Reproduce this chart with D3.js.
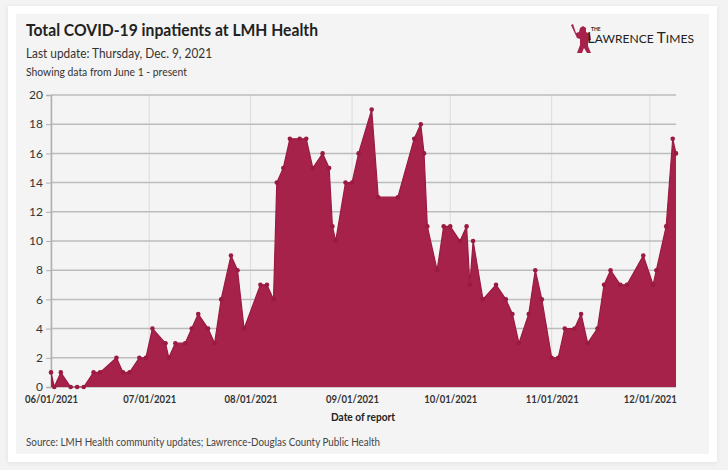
<!DOCTYPE html>
<html>
<head>
<meta charset="utf-8">
<script src="https://cdn.jsdelivr.net/npm/d3@7"></script>
<style>
  html, body { margin: 0; padding: 0; background: #f3f3f3; }
  svg { display: block; }
  text { font-family: "Lato", "Noto Sans", sans-serif; }
</style>
</head>
<body>
<div id="chart"></div>
<script>
// Report dates and patient counts
const reportDates = [
  "2021-06-01", "2021-06-02", "2021-06-04", "2021-06-07", "2021-06-09", "2021-06-11",
  "2021-06-14", "2021-06-16", "2021-06-21", "2021-06-23", "2021-06-25", "2021-06-28",
  "2021-06-30", "2021-07-02", "2021-07-06", "2021-07-07", "2021-07-09", "2021-07-12",
  "2021-07-14", "2021-07-16", "2021-07-19", "2021-07-21", "2021-07-23", "2021-07-26",
  "2021-07-28", "2021-07-30", "2021-08-04", "2021-08-06", "2021-08-08", "2021-08-09",
  "2021-08-11", "2021-08-13", "2021-08-16", "2021-08-18", "2021-08-20", "2021-08-23",
  "2021-08-25", "2021-08-26", "2021-08-27", "2021-08-30", "2021-09-01", "2021-09-03",
  "2021-09-07", "2021-09-09", "2021-09-15", "2021-09-20", "2021-09-22", "2021-09-23",
  "2021-09-24", "2021-09-27", "2021-09-29", "2021-10-01", "2021-10-04", "2021-10-06",
  "2021-10-07", "2021-10-08", "2021-10-11", "2021-10-15", "2021-10-18", "2021-10-20",
  "2021-10-22", "2021-10-25", "2021-10-27", "2021-10-29", "2021-11-01", "2021-11-03",
  "2021-11-05", "2021-11-08", "2021-11-10", "2021-11-12", "2021-11-15", "2021-11-17",
  "2021-11-19", "2021-11-22", "2021-11-24", "2021-11-29", "2021-12-02", "2021-12-03",
  "2021-12-06", "2021-12-08", "2021-12-09"
];
const inpatients = [
  1, 0, 1, 0, 0, 0,
  1, 1, 2, 1, 1, 2,
  2, 4, 3, 2, 3, 3,
  4, 5, 4, 3, 6, 9,
  8, 4, 7, 7, 6, 14,
  15, 17, 17, 17, 15, 16,
  15, 11, 10, 14, 14, 16,
  19, 13, 13, 17, 18, 16,
  11, 8, 11, 11, 10, 11,
  7, 10, 6, 7, 6, 5,
  3, 5, 8, 6, 2, 2,
  4, 4, 5, 3, 4, 7,
  8, 7, 7, 9, 7, 8,
  11, 17, 16
];
const xTickDates = ["2021-06-01", "2021-07-01", "2021-08-01", "2021-09-01", "2021-10-01", "2021-11-01", "2021-12-01"];
const yTicks = [0, 2, 4, 6, 8, 10, 12, 14, 16, 18, 20];

const W = 728, H = 470;
const margin = { left: 51, right: 52, top: 95, bottom: 83 };
const fillColor = "#a6224b";
const dotColor = "#9a1a41";

const parse = d3.timeParse("%Y-%m-%d");
const data = reportDates.map((d, i) => ({ date: parse(d), value: inpatients[i] }));

const svg = d3.select("#chart").append("svg")
  .attr("width", W)
  .attr("height", H);

// page card and inner panel
const defs = svg.append("defs");
const shadow = defs.append("filter").attr("id", "shadow").attr("x", "-5%").attr("y", "-5%").attr("width", "110%").attr("height", "110%");
shadow.append("feDropShadow").attr("dx", 0).attr("dy", 1).attr("stdDeviation", 2).attr("flood-color", "#000").attr("flood-opacity", 0.08);

svg.append("rect").attr("x", 8).attr("y", 6).attr("width", 709).attr("height", 456)
  .attr("fill", "#fff").attr("filter", "url(#shadow)");
svg.append("rect").attr("x", 16).attr("y", 14).attr("width", 693).attr("height", 440)
  .attr("fill", "#f4f4f4");

// the reference font is narrower than Lato, so fit each text to its measured width
function fit(sel, len) {
  return sel.attr("textLength", len).attr("lengthAdjust", "spacingAndGlyphs");
}

// titles
fit(svg.append("text").attr("x", 26).attr("y", 36)
  .attr("font-size", 17).attr("font-weight", 700).attr("fill", "#222")
  .text("Total COVID-19 inpatients at LMH Health"), 292);
fit(svg.append("text").attr("x", 26).attr("y", 57.5)
  .attr("font-size", 13.5).attr("fill", "#333")
  .text("Last update: Thursday, Dec. 9, 2021"), 186);
fit(svg.append("text").attr("x", 26).attr("y", 75.5)
  .attr("font-size", 11).attr("fill", "#333")
  .text("Showing data from June 1 - present"), 161);

// scales
const x = d3.scaleTime()
  .domain(d3.extent(data, d => d.date))
  .range([margin.left, W - margin.right]);
const y = d3.scaleLinear()
  .domain([0, 20])
  .range([H - margin.bottom, margin.top]);

// vertical gridlines at month starts
const monthTicks = xTickDates.map(parse);
svg.append("g").selectAll("line")
  .data(monthTicks)
  .join("line")
  .attr("x1", d => x(d)).attr("x2", d => x(d))
  .attr("y1", y(20)).attr("y2", y(0))
  .attr("stroke", "#dcdcdc").attr("stroke-width", 1);

// horizontal gridlines
svg.append("g").selectAll("line")
  .data(yTicks)
  .join("line")
  .attr("x1", margin.left).attr("x2", W - margin.right)
  .attr("y1", d => y(d)).attr("y2", d => y(d))
  .attr("stroke", "#bcbcbc").attr("stroke-width", 1.5);

// y axis
const yAxis = svg.append("g")
  .attr("transform", `translate(${margin.left},0)`)
  .call(d3.axisLeft(y).tickValues(yTicks).tickSize(5).tickPadding(3));
yAxis.select(".domain").attr("stroke", "#b0b0b0").attr("stroke-width", 1.5);
yAxis.selectAll(".tick line").attr("stroke", "#b0b0b0");
yAxis.selectAll(".tick text")
  .attr("font-family", "Lato, sans-serif").attr("font-size", 12).attr("fill", "#333")
  .attr("dy", "0.3em");

// area + line + dots
const area = d3.area()
  .x(d => x(d.date))
  .y0(y(0))
  .y1(d => y(d.value));
const line = d3.line()
  .x(d => x(d.date))
  .y(d => y(d.value));

svg.append("path").datum(data)
  .attr("d", area)
  .attr("fill", fillColor);
svg.append("path").datum(data)
  .attr("d", line)
  .attr("fill", "none")
  .attr("stroke", dotColor)
  .attr("stroke-width", 1.2);
svg.append("g").selectAll("circle")
  .data(data)
  .join("circle")
  .attr("cx", d => x(d.date))
  .attr("cy", d => y(d.value))
  .attr("r", 2.3)
  .attr("fill", dotColor);

// x axis
const xAxis = svg.append("g")
  .attr("transform", `translate(0,${y(0)})`)
  .call(d3.axisBottom(x).tickValues(monthTicks).tickFormat(d3.timeFormat("%m/%d/%Y")).tickSize(0).tickPadding(8));
xAxis.select(".domain").remove();
fit(xAxis.selectAll(".tick text")
  .attr("font-family", "Lato, sans-serif").attr("font-size", 11.5).attr("font-weight", 700).attr("fill", "#333"), 53);

fit(svg.append("text")
  .attr("x", 363).attr("y", 420.5)
  .attr("text-anchor", "middle")
  .attr("font-size", 11.5).attr("font-weight", 700).attr("fill", "#222")
  .text("Date of report"), 64);

fit(svg.append("text")
  .attr("x", 26).attr("y", 445.5)
  .attr("font-size", 11.5).attr("fill", "#444")
  .text("Source: LMH Health community updates; Lawrence-Douglas County Public Health"), 354);

// logo
const logo = svg.append("g").attr("transform", "translate(568,24)");
logo.append("path")
  .attr("d", "M3,1 L5,0 L8,9 L11,8 L12,4 L15,2 L18,4 L18,8 L22,10 L23,16 L20,17 L20,22 L23,29 L19,29 L16,24 L14,29 L9,29 L12,21 L12,15 L9,14 Z")
  .attr("fill", "#a6224b");
logo.append("text").attr("x", 23).attr("y", 6.5)
  .attr("font-family", "Liberation Serif, serif").attr("font-size", 5).attr("font-weight", 700).attr("fill", "#222")
  .text("THE");
fit(logo.append("text").attr("x", 19).attr("y", 19)
  .attr("font-family", "Liberation Serif, serif").attr("font-size", 14.5).attr("fill", "#222")
  .html('L<tspan font-size="11.5">AWRENCE </tspan>T<tspan font-size="11.5">IMES</tspan>'), 107);
</script>
</body>
</html>
